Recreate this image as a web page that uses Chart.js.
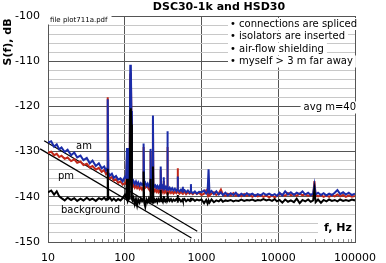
<!DOCTYPE html>
<html>
<head>
<meta charset="utf-8">
<script src="https://cdn.jsdelivr.net/npm/chart.js@4.4.1/dist/chart.umd.min.js"></script>
<style>
  html, body { margin: 0; padding: 0; background: #fff; }
  canvas { display: block; }
</style>
</head>
<body>
<canvas id="psdChart" width="386" height="263"></canvas>
<script>
'use strict';

// ── DATA ──
const freqs = [
  10, 11, 12, 13, 14, 15, 16.5, 18, 20, 22, 24, 26.5, 29, 32, 35, 38, 42, 46, 50, 54, 57, 59, 60, 61, 64, 68, 72, 77, 82, 88, 94, 100,
  104, 107, 110, 114, 116, 118, 120, 122, 124, 126,
  130, 135, 140, 145, 150, 156, 162, 168, 173, 176,
  179, 185, 192, 199, 206, 212, 215, 217, 220, 225,
  230, 233, 236, 242, 250, 258, 266, 274, 282, 290,
  294, 298, 305, 314, 318, 321, 324, 332, 342, 352,
  357, 360, 363, 372, 385, 400, 415, 432, 450, 470,
  484, 489, 494, 515, 540, 568, 571, 574, 600, 630,
  665, 700, 724, 728, 732, 770, 820, 870, 930,
  1000, 1080, 1150, 1200, 1236, 1270, 1350, 1450, 1560, 1680,
  1790, 1900, 2050, 2200, 2400, 2600, 2800, 3050, 3300, 3600,
  3900, 4200, 4600, 5000, 5400, 5900, 6400, 7000, 7600, 8300,
  9000, 9600, 10400, 11300, 12300, 13400, 14600, 16000, 17400, 19000,
  20700, 22500, 24500, 26500, 28500, 29600, 30700, 33000, 36000, 39000,
  42500, 46000, 50000, 54500, 59000, 64000, 70000, 76000, 83000, 91000,
  100000
];

const amDb = [
  -128.0, -127.7, -128.9, -128.4, -129.5, -129.1, -130.1, -129.6, -130.8, -130.2, -131.3, -130.9, -131.9, -131.4, -132.6, -132.0,
  -133.2, -132.6, -133.7, -133.3, -134.2, -133.7, -118.4, -134.6, -135.3, -134.9, -135.8, -135.4, -136.2, -135.9, -136.6, -135.6,
  -135.9, -129.2, -136.4, -136.8, -131.0, -111.0, -110.8, -121.0, -135.5, -137.0,
  -136.5, -137.2, -136.6, -137.3, -136.8, -137.5, -137.0, -137.4, -137.1, -128.2,
  -137.3, -136.9, -137.6, -137.1, -137.7, -137.3, -136.5, -129.4, -137.0, -137.6,
  -137.3, -122.0, -137.1, -137.8, -137.5, -138.0, -137.6, -138.1, -137.7, -138.2,
  -133.3, -138.0, -137.6, -138.1, -137.5, -135.7, -137.6, -138.2, -137.8, -138.3,
  -137.9, -125.5, -138.0, -138.4, -138.0, -138.5, -138.1, -138.6, -138.2, -138.7,
  -138.3, -135.5, -138.4, -138.8, -138.4, -138.9, -137.8, -138.7, -138.5, -139.0,
  -138.6, -139.1, -138.7, -137.2, -138.8, -139.2, -138.8, -139.3, -138.9,
  -139.0, -138.6, -139.3, -138.9, -133.9, -139.1, -138.7, -139.4, -138.8, -139.5,
  -139.0, -139.6, -139.1, -139.7, -139.2, -139.6, -139.1, -139.8, -139.3, -139.7,
  -139.2, -139.6, -139.3, -139.8, -139.4, -139.7, -139.2, -139.6, -139.3, -139.7,
  -139.4, -139.8, -139.1, -139.7, -138.8, -139.5, -139.0, -139.6, -139.1, -139.4,
  -138.8, -139.5, -139.1, -139.6, -139.3, -137.4, -139.5, -139.1, -139.6, -139.2,
  -139.7, -139.3, -139.6, -139.1, -138.5, -139.4, -139.0, -139.5, -139.1, -139.6,
  -139.3
];

const pmDb = [
  -130.3, -130.0, -130.8, -130.5, -131.2, -130.9, -131.6, -131.3, -132.1, -131.7, -132.5, -132.2, -133.0, -132.7, -133.5, -133.2,
  -134.0, -133.6, -134.5, -134.1, -135.0, -134.7, -118.0, -135.4, -135.9, -135.6, -136.4, -136.1, -136.9, -136.6, -137.3, -137.0,
  -137.2, -131.0, -137.5, -137.3, -132.0, -113.0, -112.5, -122.0, -136.5, -137.8,
  -137.4, -138.0, -137.5, -138.1, -137.7, -138.3, -137.9, -138.4, -138.0, -129.0,
  -138.2, -138.0, -137.7, -137.9, -138.3, -138.6, -138.0, -130.0, -138.3, -138.7,
  -138.3, -123.0, -138.2, -138.8, -138.4, -138.9, -138.5, -139.0, -138.6, -139.0,
  -134.0, -138.8, -138.5, -139.0, -138.6, -136.5, -138.7, -139.1, -138.7, -139.1,
  -138.8, -129.0, -138.9, -139.2, -138.8, -139.2, -138.9, -139.3, -138.9, -139.2,
  -138.8, -133.7, -138.9, -139.3, -138.9, -139.3, -138.6, -139.2, -138.9, -139.4,
  -139.0, -139.3, -139.0, -138.2, -139.1, -139.4, -139.0, -139.4, -139.1,
  -139.6, -139.3, -138.6, -139.5, -137.5, -139.7, -139.3, -139.0, -139.6, -139.2,
  -138.4, -139.5, -139.8, -139.3, -139.7, -139.2, -139.8, -139.5, -139.9, -139.4,
  -139.8, -139.5, -140.0, -139.6, -139.9, -139.6, -140.0, -139.7, -140.1, -139.7,
  -140.1, -139.8, -139.5, -139.5, -139.8, -139.2, -139.7, -139.4, -139.8, -139.3,
  -139.7, -139.4, -139.8, -139.5, -139.8, -136.5, -139.6, -139.9, -139.6, -140.0,
  -139.7, -140.0, -139.6, -139.9, -139.5, -139.9, -139.6, -140.0, -139.7, -140.0,
  -139.8
];

const bgDb = [
  -139.0, -138.6, -139.5, -138.8, -139.9, -140.3, -140.8, -140.2, -140.7, -140.3, -140.9, -140.4, -140.8, -140.2, -140.7, -140.4,
  -140.9, -140.3, -140.6, -140.2, -140.7, -140.4, -133.8, -140.5, -140.2, -140.8, -140.4, -140.9, -140.5, -140.8, -140.3, -139.6,
  -140.2, -136.0, -140.9, -140.4, -138.0, -121.0, -120.4, -124.0, -140.5, -140.8,
  -140.2, -141.6, -140.5, -141.9, -140.6, -141.3, -140.4, -141.0, -140.6, -134.4,
  -141.2, -142.2, -140.6, -141.2, -140.4, -141.0, -140.5, -136.0, -141.1, -140.6,
  -141.3, -133.3, -141.5, -140.5, -141.0, -140.6, -141.2, -140.5, -140.9, -140.5,
  -138.5, -141.0, -140.6, -141.1, -140.7, -139.8, -140.8, -140.5, -141.0, -140.6,
  -140.9, -139.0, -140.8, -140.4, -140.9, -140.5, -141.0, -140.6, -140.9, -140.5,
  -140.8, -139.6, -140.9, -140.5, -141.0, -140.6, -140.3, -140.8, -140.5, -141.0,
  -140.6, -140.9, -140.5, -140.2, -140.8, -140.5, -140.9, -140.6, -140.8,
  -140.6, -141.4, -140.7, -141.5, -140.8, -141.3, -140.6, -141.2, -140.8, -141.0,
  -140.6, -141.1, -140.8, -140.9, -140.7, -141.0, -140.8, -140.9, -140.6, -140.9,
  -140.7, -140.8, -140.6, -140.9, -140.7, -140.8, -140.5, -140.8, -140.6, -140.9,
  -140.5, -141.0, -140.7, -141.3, -140.6, -141.1, -140.8, -141.2, -140.4, -141.4,
  -140.7, -141.0, -140.6, -141.1, -140.8, -138.5, -141.2, -140.6, -141.3, -140.7,
  -141.0, -140.6, -140.9, -140.7, -141.0, -140.6, -140.9, -140.7, -140.9, -140.6,
  -140.8
];

// 1/f reference slopes
const slopeAmF  = [8.9, 880];
const slopeAmDb = [-127.6, -147.6];
const slopePmF  = [7.9, 740];
const slopePmDb = [-129.4, -149.1];

const xDecades = [10, 100, 1000, 10000, 100000];
const notes = [
  '\u2022 connections are spliced',
  '\u2022 isolators are inserted',
  '\u2022 air-flow shielding',
  '\u2022 myself > 3 m far away'
];

// ── STYLE ──
const FONT = 'DejaVu Sans';
const MAJOR = '#555555';
const MINOR = '#c8c8c8';

const toPts = (xs, ys) => xs.map((x, i) => ({ x, y: ys[i] }));

// ── TEXT / DECOR PLUGIN ──
function drawText(ctx, txt, x, y, o = {}) {
  ctx.save();
  ctx.font = `${o.bold ? 'bold ' : ''}${o.size || 10}px "${FONT}"`;
  ctx.textAlign = o.align || 'left';
  ctx.textBaseline = 'middle';
  if (o.bg) {
    const w = ctx.measureText(txt).width;
    const x0 = o.align === 'right' ? x - w : (o.align === 'center' ? x - w / 2 : x);
    ctx.fillStyle = '#fff';
    ctx.fillRect(x0 - (o.padL ?? 3), y - (o.size || 10) / 2 - 1, w + (o.padL ?? 3) + (o.padR ?? 3), (o.size || 10) + 2);
  }
  ctx.fillStyle = '#000';
  ctx.fillText(txt, x, y);
  ctx.restore();
}

const decorPlugin = {
  id: 'decor',
  afterDatasetsDraw(chart) {
    const { ctx, chartArea: a, scales: { x } } = chart;

    // minor log ticks along the bottom, inside the plot
    ctx.save();
    ctx.strokeStyle = '#8a8a8a';
    ctx.lineWidth = 1;
    xDecades.slice(0, -1).forEach(d => {
      for (let k = 2; k <= 9; k++) {
        const px = Math.round(x.getPixelForValue(k * d)) + 0.5;
        ctx.beginPath();
        ctx.moveTo(px, a.bottom);
        ctx.lineTo(px, a.bottom - 3);
        ctx.stroke();
      }
    });
    ctx.restore();

    drawText(ctx, 'file plot711a.pdf', a.left + 2, a.top + 4, { size: 7, bg: true, padL: 2, padR: 4 });
    notes.forEach((t, i) => drawText(ctx, t, 230, 24 + i * 12.5, { size: 10, bg: true, padL: 2, padR: 3 }));
    drawText(ctx, 'avg m=40', 356, 107.5, { size: 10, align: 'right', bg: true, padL: 3, padR: 3 });
    drawText(ctx, 'f, Hz', 324, 228.5, { size: 11, bold: true, bg: true, padL: 6, padR: 3 });
    drawText(ctx, 'am', 76, 146.5, { size: 10 });
    drawText(ctx, 'pm', 58, 176.5, { size: 10 });
    drawText(ctx, 'background', 61, 210, { size: 10 });
  },
  afterDraw(chart) {
    const { ctx } = chart;
    drawText(ctx, 'DSC30-1k and HSD30', 219, 7, { size: 11, bold: true, align: 'center' });
    ctx.save();
    ctx.translate(8, 42);
    ctx.rotate(-Math.PI / 2);
    drawText(ctx, 'S(f), dB', 0, 0, { size: 11, bold: true, align: 'center' });
    ctx.restore();
  }
};

// ── CHART ──
Chart.defaults.font.family = FONT;
Chart.defaults.color = '#000';

const lineDs = (label, data, color, width) => ({
  label, data,
  borderColor: color,
  borderWidth: width,
  pointRadius: 0,
  tension: 0,
  fill: false,
});

new Chart(document.getElementById('psdChart'), {
  type: 'line',
  data: {
    datasets: [
      lineDs('background', toPts(freqs, bgDb), '#000000', 2),
      lineDs('am', toPts(freqs, amDb), '#1b2ca8', 2),
      lineDs('pm', toPts(freqs, pmDb), '#c0281a', 2),
      { ...lineDs('am slope', toPts(slopeAmF, slopeAmDb), '#000', 1.2), clip: false },
      { ...lineDs('pm slope', toPts(slopePmF, slopePmDb), '#000', 1.2), clip: false },
    ]
  },
  options: {
    responsive: false,
    devicePixelRatio: 1,
    animation: false,
    layout: { padding: { left: 0, top: 16, right: 20, bottom: 0 } },
    plugins: {
      legend: { display: false },
      tooltip: { enabled: false },
    },
    scales: {
      x: {
        type: 'logarithmic',
        min: 10,
        max: 100000,
        afterBuildTicks: s => { s.ticks = xDecades.map(v => ({ value: v })); },
        afterFit: s => { s.height = 21; },
        ticks: {
          autoSkip: false,
          maxRotation: 0,
          padding: 10,
          font: { size: 11 },
          color: '#000',
          callback: v => String(v),
        },
        grid: { color: MAJOR, lineWidth: 1, drawTicks: false },
        border: { color: MAJOR },
      },
      y: {
        type: 'linear',
        min: -150,
        max: -100,
        afterFit: s => { s.width = 48; },
        ticks: {
          stepSize: 2,
          autoSkip: false,
          padding: 8,
          font: { size: 11 },
          color: '#000',
          callback: v => (v % 10 === 0 ? String(v) : ''),
        },
        grid: {
          drawTicks: false,
          lineWidth: 1,
          color: c => (c.tick && c.tick.value % 10 === 0 ? MAJOR : MINOR),
        },
        border: { color: MAJOR },
      }
    }
  },
  plugins: [decorPlugin]
});
</script>
</body>
</html>
